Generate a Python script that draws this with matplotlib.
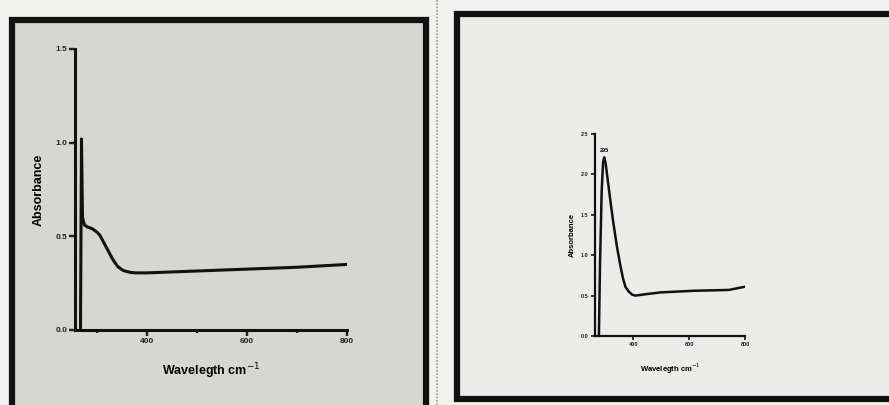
import matplotlib.pyplot as plt
from matplotlib.patches import Rectangle

plt.rcParams['font.family'] = ['Liberation Sans', 'DejaVu Sans']

# left spectrum
wl_a = [266, 268, 270, 274, 280, 285, 290, 295, 300, 305, 310, 315, 320, 325,
        330, 335, 340, 345, 350, 355, 365, 375, 400, 450, 500, 600, 700, 800]
abs_a = [0.00, 1.02, 0.60, 0.56, 0.55, 0.545, 0.54, 0.53, 0.52, 0.505, 0.48,
         0.455, 0.43, 0.405, 0.38, 0.36, 0.34, 0.33, 0.32, 0.315, 0.308,
         0.305, 0.305, 0.31, 0.315, 0.325, 0.335, 0.35]

# right spectrum
wl_b = [276, 280, 286, 291, 295, 300, 307, 317, 327, 340, 353, 362, 371, 383,
        396, 407, 450, 498, 618, 742, 800]
abs_b = [0.00, 0.90, 1.80, 2.15, 2.21, 2.14, 1.95, 1.68, 1.42, 1.12, 0.87,
         0.72, 0.61, 0.55, 0.51, 0.50, 0.52, 0.54, 0.56, 0.57, 0.61]

yticks_a = [0.0, 0.5, 1.0, 1.5]
yticks_b = [0.0, 0.5, 1.0, 1.5, 2.0, 2.5]
xticks = [400, 600, 800]
peak_label = '295'

W, H = 889, 405
fig = plt.figure(figsize=(W / 100, H / 100), dpi=100)
fig.patch.set_facecolor('#f2f2f0')

# paper background + frames
bg = fig.add_axes([0, 0, 1, 1])
bg.set_xlim(0, W)
bg.set_ylim(H, 0)
bg.axis('off')
bg.add_patch(Rectangle((12, 20), 414, 400, facecolor='#d6d6d3',
                       edgecolor='#111111', linewidth=4.5))
bg.add_patch(Rectangle((457, 14), 450, 385, facecolor='#ececea',
                       edgecolor='#111111', linewidth=4.5))
bg.plot([437, 437], [0, H], color='#999999', lw=1.2, ls=(0, (1, 1)))


def px_axes(x0, y0, x1, y1):
    return fig.add_axes([x0 / W, 1 - y1 / H, (x1 - x0) / W, (y1 - y0) / H])


def style(ax, fs, lw):
    ax.patch.set_alpha(0)
    for s in ['top', 'right']:
        ax.spines[s].set_visible(False)
    for s in ['left', 'bottom']:
        ax.spines[s].set_linewidth(lw)
        ax.spines[s].set_color('#111111')
    ax.tick_params(width=lw * 0.8, length=4, labelsize=fs, colors='#222222',
                   pad=1.5)


# left chart
ax1 = px_axes(75, 49, 347, 330)
ax1.plot(wl_a, abs_a, color='#111111', lw=2.2)
ax1.set_xlim(255, 800)
ax1.set_ylim(0, 1.5)
ax1.set_xticks(xticks)
ax1.set_xticks([300, 500, 700], minor=True)
ax1.set_yticks(yticks_a)
ax1.set_yticklabels(['%.1f' % v for v in yticks_a], fontweight='bold')
ax1.set_xticklabels([str(v) for v in xticks], fontweight='bold')
style(ax1, 6, 2.2)
ax1.tick_params(which='minor', length=2.5, width=1.5)
ax1.set_ylabel('Absorbance', fontsize=9, fontweight='bold', labelpad=8)
ax1.set_xlabel('Wavelegth cm$^{-1}$', fontsize=9, fontweight='bold',
               labelpad=12)

# right chart
ax2 = px_axes(595, 134, 745, 336)
ax2.plot(wl_b, abs_b, color='#111111', lw=1.8)
ax2.set_xlim(262, 800)
ax2.set_ylim(0, 2.5)
ax2.set_xticks(xticks)
ax2.set_yticks(yticks_b)
ax2.set_yticklabels(['%.1f' % v for v in yticks_b], fontweight='bold')
ax2.set_xticklabels([str(v) for v in xticks], fontweight='bold')
style(ax2, 4, 1.6)
ax2.tick_params(length=3)
ax2.set_ylabel('Absorbance', fontsize=5.5, fontweight='bold', labelpad=4)
ax2.set_xlabel('Wavelegth cm$^{-1}$', fontsize=5.5, fontweight='bold',
               labelpad=10)
ax2.annotate(peak_label, xy=(295, 2.21), xytext=(0, 4),
             textcoords='offset points', ha='center', fontsize=4,
             fontweight='bold')

fig.savefig('out.png', dpi=100)
